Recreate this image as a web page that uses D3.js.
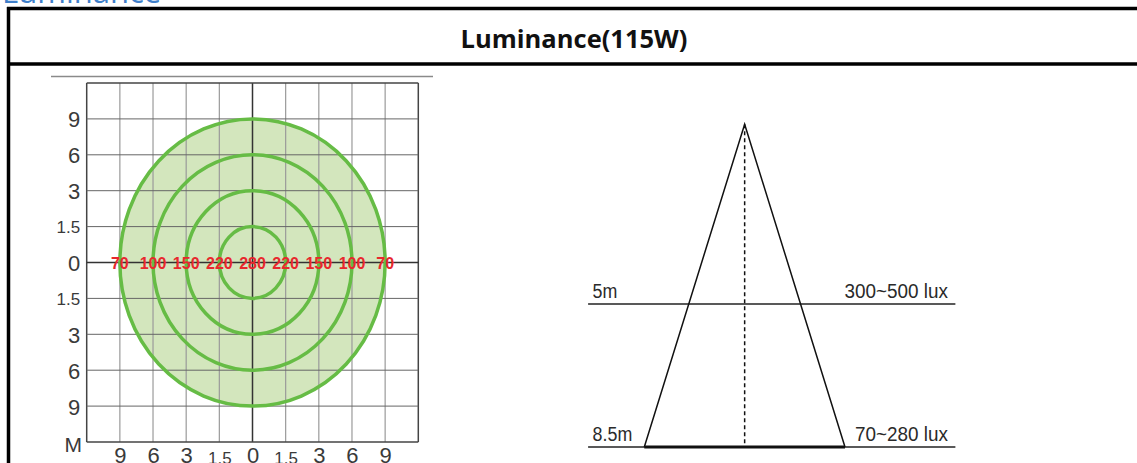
<!DOCTYPE html>
<html>
<head>
<meta charset="utf-8">
<script src="https://cdn.jsdelivr.net/npm/d3@7"></script>
<style>
  body { margin: 0; background: #fff; }
  svg { display: block; }
</style>
</head>
<body>
<script>
// Luminance chart for the 115W lamp: ring plot on the left, beam cone on the right

// grid positions run from -5..5, ticks sit at -4..4
let gridSteps = [-5, -4, -3, -2, -1, 0, 1, 2, 3, 4, 5];
let tickSteps = [-4, -3, -2, -1, 0, 1, 2, 3, 4];
let xTickLabels = ['9', '6', '3', '1.5', '0', '1.5', '3', '6', '9'];
let yTickLabels = ['9', '6', '3', '1.5', '0', '1.5', '3', '6', '9'];

// rings (in grid steps) and the lux value written on each
let ringSteps = [4, 3, 2, 1];
let luxRow = ['70', '100', '150', '220', '280', '220', '150', '100', '70'];

// beam diagram
let levelNames = ['5m', '8.5m'];
let levelDepths = [5, 8.5];
let levelLux = ['300~500 lux', '70~280 lux'];
let lampDepth = 0.6;
let floorExtent = [-1.56, 2.1];

let width = 1137,
  height = 463;

let svg = d3.select('body')
  .append('svg')
    .attr('width', width)
    .attr('height', height);

// cut off page heading above the table
svg.append('text')
  .attr('x', 2)
  .attr('y', 3)
  .style('font-family', '"Open Sans", sans-serif')
  .style('font-size', '31px')
  .style('fill', '#3f7fca')
  .text('Luminance');

// table frame
svg.append('line')
  .attr('x1', 7).attr('x2', width).attr('y1', 8.5).attr('y2', 8.5)
  .attr('stroke', '#000').attr('stroke-width', 3.5);
svg.append('line')
  .attr('x1', 7).attr('x2', width).attr('y1', 64).attr('y2', 64)
  .attr('stroke', '#000').attr('stroke-width', 3.5);
svg.append('line')
  .attr('x1', 8.5).attr('x2', 8.5).attr('y1', 7).attr('y2', height)
  .attr('stroke', '#000').attr('stroke-width', 3.5);

svg.append('text')
  .attr('x', 574)
  .attr('y', 48)
  .attr('text-anchor', 'middle')
  .style('font-family', '"Open Sans", sans-serif')
  .style('font-weight', 'bold')
  .style('font-size', '25.5px')
  .style('fill', '#111')
  .text('Luminance(115W)');

// ---------- ring plot ----------
let x = d3.scaleLinear().domain([-5, 5]).range([86.7, 418.3]);
let y = d3.scaleLinear().domain([-5, 5]).range([442, 83]);

svg.append('line')
  .attr('x1', 51).attr('x2', 433).attr('y1', 76.5).attr('y2', 76.5)
  .attr('stroke', '#8a8a8a').attr('stroke-width', 1.5);

let plot = svg.append('g');

// ring fill (outer ring only, the inner ones share the same colour)
plot.append('ellipse')
  .attr('cx', x(0)).attr('cy', y(0))
  .attr('rx', x(ringSteps[0]) - x(0))
  .attr('ry', y(0) - y(ringSteps[0]))
  .attr('fill', '#d3e6bd');

// grid
plot.selectAll('.vgrid')
  .data(gridSteps)
  .enter()
  .append('line')
    .attr('class', 'vgrid')
    .attr('x1', d => x(d)).attr('x2', d => x(d))
    .attr('y1', y(5)).attr('y2', y(-5))
    .attr('stroke', d => d === 0 ? '#333' : (Math.abs(d) === 5 ? '#444' : '#9a9a9a'))
    .attr('stroke-width', d => Math.abs(d) === 5 || d === 0 ? 1.5 : 1.2);

plot.selectAll('.hgrid')
  .data(gridSteps)
  .enter()
  .append('line')
    .attr('class', 'hgrid')
    .attr('x1', x(-5)).attr('x2', x(5))
    .attr('y1', d => y(d)).attr('y2', d => y(d))
    .attr('stroke', d => d === 0 ? '#333' : (Math.abs(d) === 5 ? '#444' : '#666'))
    .attr('stroke-width', d => Math.abs(d) === 5 || d === 0 ? 1.5 : 1);

// ring outlines
plot.selectAll('.ring')
  .data(ringSteps)
  .enter()
  .append('ellipse')
    .attr('class', 'ring')
    .attr('cx', x(0)).attr('cy', y(0))
    .attr('rx', d => x(d) - x(0))
    .attr('ry', d => y(0) - y(d))
    .attr('fill', 'none')
    .attr('stroke', '#66bc45')
    .attr('stroke-width', 3.5);

// lux values along the horizontal axis
plot.selectAll('.lux')
  .data(luxRow)
  .enter()
  .append('text')
    .attr('class', 'lux')
    .attr('x', (d, i) => x(tickSteps[i]))
    .attr('y', y(0) + 6)
    .attr('text-anchor', 'middle')
    .style('font-family', '"Liberation Sans", Arial, sans-serif')
    .style('font-weight', 'bold')
    .style('font-size', '16px')
    .style('fill', '#e8282d')
    .text(d => d);

// axes
let yAxis = svg.append('g')
  .attr('transform', `translate(${x(-5) - 6.5},0)`)
  .call(d3.axisLeft(y)
    .tickValues(tickSteps)
    .tickFormat((d, i) => yTickLabels[i])
    .tickSize(0)
    .tickPadding(0));
yAxis.select('.domain').remove();

let xAxis = svg.append('g')
  .attr('transform', `translate(0,${y(-5) + 5})`)
  .call(d3.axisBottom(x)
    .tickValues(tickSteps)
    .tickFormat((d, i) => xTickLabels[i])
    .tickSize(0)
    .tickPadding(0));
xAxis.select('.domain').remove();

[yAxis, xAxis].forEach(ax => {
  ax.selectAll('text')
    .style('font-family', '"Liberation Sans", Arial, sans-serif')
    .style('font-size', d => (d === 1 || d === -1) ? '17px' : '22px')
    .style('fill', '#3a3a3a');
});
yAxis.selectAll('text').attr('dy', '0.36em');
xAxis.selectAll('text').attr('dy', '0.74em').attr('y', d => (d === 1 || d === -1) ? 4 : 0);

svg.append('text')
  .attr('x', 82)
  .attr('y', 452)
  .attr('text-anchor', 'end')
  .style('font-family', '"Liberation Sans", Arial, sans-serif')
  .style('font-size', '21px')
  .style('fill', '#3a3a3a')
  .text('M');

// ---------- beam diagram ----------
let depth = d3.scaleLinear().domain([5, 8.5]).range([304, 447]);
let spread = d3.scaleLinear().domain([-1, 1]).range([644.3, 845]);
let beam = svg.append('g');

let maxDepth = d3.max(levelDepths);
let beamHalf = d => (d - lampDepth) / (maxDepth - lampDepth);

// floor lines
beam.selectAll('.level')
  .data(levelDepths)
  .enter()
  .append('line')
    .attr('class', 'level')
    .attr('x1', spread(floorExtent[0]))
    .attr('x2', spread(floorExtent[1]))
    .attr('y1', d => depth(d)).attr('y2', d => depth(d))
    .attr('stroke', '#222')
    .attr('stroke-width', 1.5);

// cone
beam.append('path')
  .attr('d', d3.line()([
    [spread(-beamHalf(maxDepth)), depth(maxDepth)],
    [spread(0), depth(lampDepth)],
    [spread(beamHalf(maxDepth)), depth(maxDepth)]
  ]))
  .attr('fill', 'none')
  .attr('stroke', '#111')
  .attr('stroke-width', 1.5);

beam.append('line')
  .attr('x1', spread(-1)).attr('x2', spread(1))
  .attr('y1', depth(maxDepth)).attr('y2', depth(maxDepth))
  .attr('stroke', '#111')
  .attr('stroke-width', 3);

beam.append('line')
  .attr('x1', spread(0)).attr('x2', spread(0))
  .attr('y1', depth(lampDepth)).attr('y2', depth(maxDepth))
  .attr('stroke', '#111')
  .attr('stroke-width', 1.5)
  .attr('stroke-dasharray', '4,3');

// level labels, condensed
let labelFont = '"Liberation Sans", Arial, sans-serif';
levelDepths.forEach((d, i) => {
  beam.append('g')
    .attr('transform', `translate(${spread(floorExtent[0]) + 4.5},${depth(d) - 6}) scale(0.85,1)`)
    .append('text')
      .style('font-family', labelFont)
      .style('font-size', '21px')
      .style('fill', '#2a2a2a')
      .text(levelNames[i]);
  beam.append('g')
    .attr('transform', `translate(${spread(floorExtent[1]) - 7.5},${depth(d) - 6}) scale(0.9,1)`)
    .append('text')
      .attr('text-anchor', 'end')
      .style('font-family', labelFont)
      .style('font-size', '21px')
      .style('fill', '#2a2a2a')
      .text(levelLux[i]);
});
</script>
</body>
</html>
